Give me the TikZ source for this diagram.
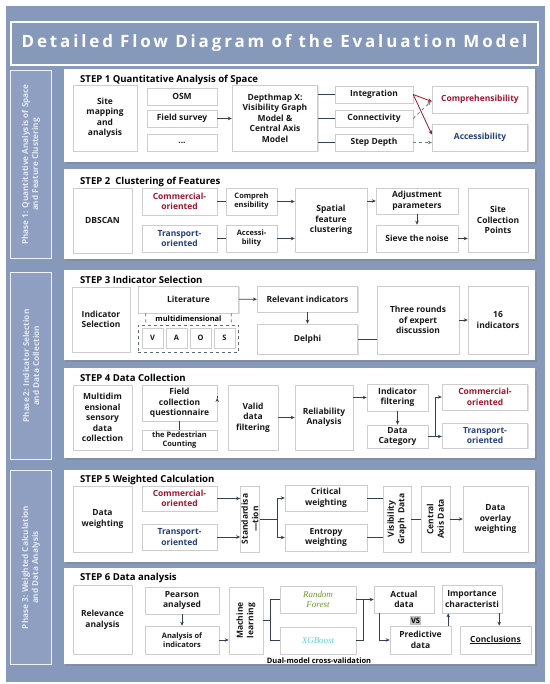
\documentclass[tikz,border=0pt]{standalone}
\usepackage{fontspec}
\setmainfont{Open Sans}
\newfontfamily\rfont{Liberation Serif}
\usetikzlibrary{arrows.meta,calc,shadows}

\definecolor{bgblue}{HTML}{8799BB}
\definecolor{phaseblue}{HTML}{8E9FC1}
\definecolor{phasetext}{HTML}{E4E9F2}
\definecolor{linec}{HTML}{34405A}
\definecolor{comred}{HTML}{A3162B}
\definecolor{trablue}{HTML}{233F7F}
\definecolor{rfgreen}{HTML}{6B9B2F}
\definecolor{xgcyan}{HTML}{5CD3DA}
\definecolor{boxline}{HTML}{CDCDCD}

\tikzset{
  box/.style={draw=boxline, fill=white, line width=0.7bp, align=center, inner sep=1bp,
    font=\bfseries\fontsize{8.5}{10.5}\selectfont, text=black!90,
    drop shadow={shadow xshift=1bp, shadow yshift=-1bp, opacity=0.25}},
  smalltext/.style={font=\bfseries\fontsize{7.5}{9}\selectfont},
  panel/.style={fill=white, drop shadow={shadow xshift=2bp, shadow yshift=-2bp, opacity=0.45}},
  steptitle/.style={anchor=west, inner sep=0pt, font=\bfseries\fontsize{9.6}{11}\selectfont},
  phasebox/.style={draw=white!85!phaseblue, line width=1bp, fill=phaseblue, text=phasetext,
    rotate=90, align=center, font=\bfseries\fontsize{8.2}{10}\selectfont},
  dashbox/.style={draw=linec!80, dashed, line width=0.8bp},
  ln/.style={draw=linec, line width=0.8bp},
  arr/.style={draw=linec, line width=0.8bp, -{Stealth[length=4bp,width=3.5bp]}},
  redarr/.style={draw=comred, line width=0.8bp, -{Stealth[length=4bp,width=3.5bp]}},
  dasharr/.style={draw=linec!70, line width=0.8bp, dashed, -{Stealth[length=4bp,width=3.5bp]}},
}

\begin{document}
\begin{tikzpicture}[x=1bp,y=-1bp]
    \useasboundingbox (0,0) rectangle (550,684);
    \fill[bgblue] (6,6) rectangle (545,682);

    \draw[white, line width=1.5bp] (11,22) rectangle (538,65);
    \node[text=white, font=\bfseries\fontsize{17}{19}\selectfont\addfontfeatures{LetterSpace=17}] (title) at (274.5,43.5) {Detailed Flow Diagram of the Evaluation Model};

    \node[phasebox, minimum width=189, minimum height=42] (ph1) at (31,164.5) {Phase 1: Quantitative Analysis of Space\\and Feature Clustering};
    \node[phasebox, minimum width=188, minimum height=42] (ph2) at (31,366) {Phase 2: Indicator Selection\\and Data Collection};
    \node[phasebox, minimum width=195, minimum height=42] (ph3) at (31,567.5) {Phase 3: Weighted Calculation\\and Data Analysis};

    \fill[panel] (64,69) rectangle (535,162);
    \fill[panel] (64,169) rectangle (535,259);
    \fill[panel] (64,270) rectangle (535,360);
    \fill[panel] (64,368) rectangle (535,458);
    \fill[panel] (64,470) rectangle (535,562);
    \fill[panel] (64,568) rectangle (535,664);

    \node[steptitle] (t1) at (80,80) {STEP 1 Quantitative Analysis of Space};
    \node[box, minimum width=64, minimum height=66] (site) at (105,118) {Site\\mapping\\and\\analysis};
    \node[box, minimum width=70, minimum height=17] (osm) at (182,96.5) {OSM};
    \node[box, minimum width=70, minimum height=17] (field) at (182,118.5) {Field survey};
    \node[box, minimum width=70, minimum height=17] (dots) at (182,142.5) {...};
    \node[box, minimum width=86, minimum height=66] (depth) at (275,118) {Depthmap X:\\Visibility Graph\\Model \&\\Central Axis\\Model};
    \node[box, minimum width=78, minimum height=17] (integ) at (374,94.5) {Integration};
    \node[box, minimum width=78, minimum height=17] (conn) at (374,118.5) {Connectivity};
    \node[box, minimum width=78, minimum height=17] (stepd) at (374,142.5) {Step Depth};
    \node[box, minimum width=96, minimum height=27, text=comred] (compr) at (480,99.5) {Comprehensibility};
    \node[box, minimum width=96, minimum height=27, text=trablue] (acces) at (480,137.5) {Accessibility};

    \draw[arr] (field.east) -- (field.east -| depth.west);
    \draw[ln] (depth.east |- integ.west) -- (integ.west);
    \draw[ln] (depth.east |- conn.west) -- (conn.west);
    \draw[ln] (depth.east |- stepd.west) -- (stepd.west);
    \draw[redarr] (integ.east) -- ($(compr.west)+(0,2)$);
    \draw[redarr] (integ.east) -- ($(acces.west)+(0,-3)$);
    \draw[dasharr] (conn.east) -- ($(compr.west)+(-1,2)$);
    \draw[dasharr] (stepd.east) -- (stepd.east -| acces.west);

    \node[steptitle] (t2) at (80,182) {STEP 2\ \ Clustering of Features};
    \node[box, minimum width=59, minimum height=65] (dbscan) at (102.5,220.5) {DBSCAN};
    \node[box, minimum width=75, minimum height=27, text=comred] (com2) at (179.5,201.5) {Commercial-\\oriented};
    \node[box, minimum width=75, minimum height=27, text=trablue] (tra2) at (179.5,238.5) {Transport-\\oriented};
    \node[box, smalltext, minimum width=51, minimum height=27] (comp2) at (251.5,201.5) {Compreh\\ensibility};
    \node[box, smalltext, minimum width=51, minimum height=27] (acc2) at (251.5,238.5) {Accessi-\\bility};
    \node[box, minimum width=72, minimum height=64] (spatial) at (331,220) {Spatial\\feature\\clustering};
    \node[box, minimum width=82, minimum height=26] (adjust) at (417,201) {Adjustment\\parameters};
    \node[box, minimum width=82, minimum height=27] (sieve) at (417,238.5) {Sieve the noise};
    \node[box, minimum width=60, minimum height=64] (sitecol) at (498,220) {Site\\Collection\\Points};

    \draw[ln] (com2) -- (comp2);
    \draw[ln] (tra2) -- (acc2);
    \draw[arr] (comp2.east) -- (comp2.east -| spatial.west);
    \draw[arr] (acc2.east) -- (acc2.east -| spatial.west);
    \draw[arr] (spatial.east |- adjust.west) -- (adjust.west);
    \draw[arr] (adjust) -- (sieve);
    \draw[arr] (sieve.east) -- (sieve.east -| sitecol.west);

    \node[steptitle] (t3) at (80,280) {STEP 3 Indicator Selection};
    \node[box, minimum width=58, minimum height=65] (indsel) at (101,319.5) {Indicator\\Selection};
    \node[box, minimum width=101, minimum height=27] (lit) at (188.5,299.5) {Literature};
    \node[smalltext, inner sep=0pt] (multi) at (188.5,318.5) {multidimensional};
    \node[dashbox, minimum width=101, minimum height=27] (vaos) at (188.5,338.5) {};
    \node[box, smalltext, minimum width=21, minimum height=20] (dimv) at (152.5,338) {V};
    \node[box, smalltext, minimum width=21, minimum height=20] (dima) at (176.5,338) {A};
    \node[box, smalltext, minimum width=21, minimum height=20] (dimo) at (200.5,338) {O};
    \node[box, smalltext, minimum width=21, minimum height=20] (dims) at (224.5,338) {S};
    \node[box, minimum width=101, minimum height=26] (relev) at (307.5,299) {Relevant indicators};
    \node[box, minimum width=101, minimum height=30] (delphi) at (307.5,339) {Delphi};
    \node[box, minimum width=82, minimum height=68] (three) at (418,320) {Three rounds\\of expert\\discussion};
    \node[box, minimum width=60, minimum height=68] (sixteen) at (498,320) {16\\indicators};

    \draw[dashbox] ($(lit.south west)+(8,0)$) -- ($(vaos.north west)+(8,0)$);
    \draw[dashbox] ($(lit.south east)+(-8,0)$) -- ($(vaos.north east)+(-8,0)$);
    \draw[arr] (lit) -- (relev);
    \draw[arr] (relev) -- (delphi);
    \draw[ln] (delphi.east) -- (delphi.east -| three.west);
    \draw[arr] (three) -- (sixteen);

    \node[steptitle] (t4) at (80,378) {STEP 4 Data Collection};
    \node[box, minimum width=59, minimum height=65] (msdc) at (102.5,417.5) {Multidim\\ensional\\sensory\\data\\collection};
    \node[box, minimum width=75, minimum height=36] (fieldq) at (179.5,403) {Field\\collection\\questionnaire};
    \node[box, smalltext, minimum width=75, minimum height=20] (pede) at (179.5,440) {the Pedestrian\\Counting};
    \node[box, minimum width=50, minimum height=65] (valid) at (253,417.5) {Valid\\data\\filtering};
    \node[box, minimum width=58, minimum height=65] (relia) at (324,417.5) {Reliability\\Analysis};
    \node[box, minimum width=61, minimum height=27] (indf) at (397.5,397.5) {Indicator\\filtering};
    \node[box, minimum width=61, minimum height=23] (datac) at (397.5,436.5) {Data\\Category};
    \node[box, minimum width=86, minimum height=26, text=comred] (com4) at (485,397) {Commercial-\\oriented};
    \node[box, minimum width=86, minimum height=25, text=trablue] (tra4) at (485,435.5) {Transport-\\oriented};

    \draw[ln] (fieldq) -- (pede);
    \draw[arr] ($(fieldq.east)+(0,-5)$) -- ($(fieldq.east)+(0,-5)$ -| valid.west);
    \draw[arr] (valid) -- (relia);
    \draw[arr] (relia.east |- indf.west) -- (indf.west);
    \draw[arr] (indf) -- (datac);
    \draw[arr] (datac.east) -- (datac.east -| tra4.west);
    \draw[arr] (datac.east) -- ++(7,0) |- (com4.west);

    \node[steptitle] (t5) at (80,480) {STEP 5 Weighted Calculation};
    \node[box, minimum width=59, minimum height=66] (dataw) at (102.5,519) {Data\\weighting};
    \node[box, minimum width=75, minimum height=25, text=comred] (com5) at (179.5,498.5) {Commercial-\\oriented};
    \node[box, minimum width=75, minimum height=26, text=trablue] (tra5) at (179.5,537) {Transport-\\oriented};
    \node[box, rotate=90, minimum width=66, minimum height=18] (stand) at (250,519) {Standardisa\\---tion};
    \node[box, minimum width=82, minimum height=26] (crit) at (326,498) {Critical\\weighting};
    \node[box, minimum width=82, minimum height=27] (entr) at (326,537.5) {Entropy\\weighting};
    \node[box, rotate=90, minimum width=66, minimum height=28] (vgd) at (397,519) {Visibility\\Graph\ \ Data};
    \node[box, rotate=90, minimum width=66, minimum height=29] (cad) at (435.5,519) {Central\\Axis Data};
    \node[box, minimum width=65, minimum height=66] (overl) at (495.5,519) {Data\\overlay\\weighting};
    \coordinate (split) at ($(stand.south)+(18,0)$);

    \draw[arr] (com5.east) -- (com5.east -| stand.north);
    \draw[arr] (tra5.east) -- (tra5.east -| stand.north);
    \draw[ln] (stand.south) -- (split);
    \draw[arr] (split) |- (crit.west);
    \draw[arr] (split) |- (entr.west);
    \draw[ln] (crit.east) -- (crit.east -| vgd.north);
    \draw[ln] (entr.east) -- (entr.east -| vgd.north);
    \draw[ln] (vgd.south) -- (cad.north);
    \draw[arr] (cad.south) -- (overl.west);

    \node[steptitle] (t6) at (80,578) {STEP 6 Data analysis};
    \node[box, minimum width=59, minimum height=69] (relan) at (102.5,620) {Relevance\\analysis};
    \node[box, minimum width=74, minimum height=27] (pears) at (182,600.5) {Pearson\\analysed};
    \node[box, smalltext, minimum width=74, minimum height=28] (analys) at (182,640) {Analysis of\\indicators};
    \node[box, rotate=90, minimum width=67, minimum height=34] (mach) at (246,620.5) {Machine\\learning};
    \node[box, minimum width=76, minimum height=27, text=rfgreen, font=\rfont\itshape\fontsize{9}{10.5}\selectfont] (rf) at (318,599.5) {Random\\Forest};
    \node[box, minimum width=76, minimum height=27, text=xgcyan, font=\rfont\itshape\fontsize{9}{10.5}\selectfont] (xgb) at (318,640.5) {XGBoost};
    \node[box, minimum width=60, minimum height=27] (actual) at (404,599.5) {Actual\\data};
    \node[box, minimum width=61, minimum height=28] (pred) at (420.5,640) {Predictive\\data};
    \node[fill=black!25, smalltext, inner sep=1.5bp] (vs) at (415.5,620.5) {VS};
    \node[box, minimum width=60, minimum height=28] (impor) at (472,599) {Importance\\characteristi};
    \node[box, minimum width=71, minimum height=28] (concl) at (495.5,640) {\underline{Conclusions}};
    \node[smalltext, inner sep=0pt] (dual) at (319,660.5) {Dual-model cross-validation};
    \coordinate (mlsplit) at ($(mach.south)+(7,0)$);
    \coordinate (merge) at ($(rf.east)+(7,0)$);
    \coordinate (predup) at ($(pred.north east)+(-3,0)$);
    \coordinate (impdown) at ($(impor.south east)+(-3,0)$);
    \coordinate (actdown) at ($(actual.south west)+(6,0)$);

    \draw[arr] (pears) -- (analys);
    \draw[arr] (analys.east) -- (analys.east -| mach.north);
    \draw[ln] (mach.south) -- (mlsplit);
    \draw[ln] (rf.west) -| (mlsplit) |- (xgb.west);
    \draw[ln] (xgb.east) -| (merge);
    \draw[arr] (rf.east) -- (rf.east -| actual.west);
    \draw[arr] (actdown) |- (pred.west);
    \draw[arr] (predup) -- (predup |- impor.south);
    \draw[arr] (impdown) -- (impdown |- concl.north);
\end{tikzpicture}
\end{document}
